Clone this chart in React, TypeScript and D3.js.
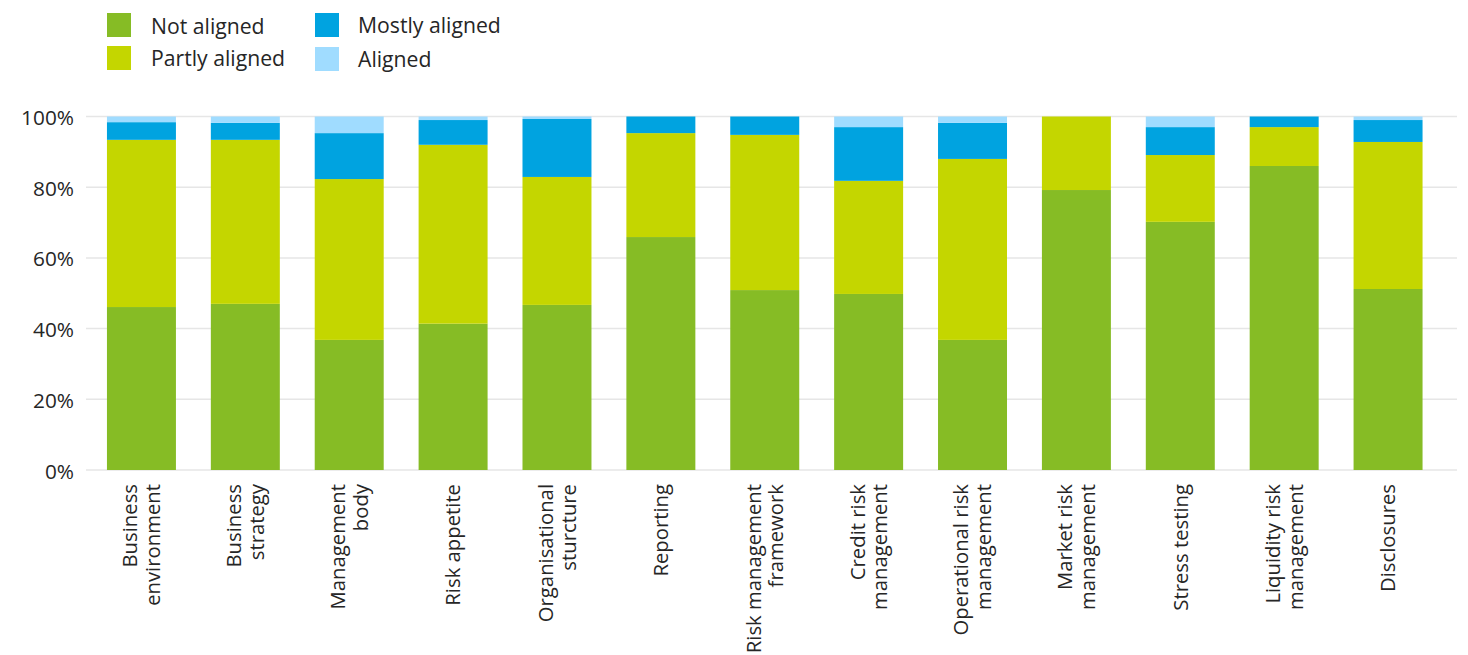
import React from "react";
import * as d3 from "d3";

const categories = [
  "Business\nenvironment",
  "Business\nstrategy",
  "Management\nbody",
  "Risk appetite",
  "Organisational\nsturcture",
  "Reporting",
  "Risk management\nframework",
  "Credit risk\nmanagement",
  "Operational risk\nmanagement",
  "Market risk\nmanagement",
  "Stress testing",
  "Liquidity risk\nmanagement",
  "Disclosures",
];

const seriesNames = ["Not aligned", "Partly aligned", "Mostly aligned", "Aligned"];
const seriesColors = ["#86BC25", "#C4D600", "#00A3E0", "#A0DCFF"];

const notAligned = [46.1, 47.0, 36.8, 41.4, 46.7, 65.9, 50.9, 49.8, 36.8, 79.2, 70.2, 86.0, 51.2];
const partlyAligned = [47.3, 46.4, 45.5, 50.6, 36.2, 29.4, 43.9, 32.0, 51.2, 20.8, 18.9, 11.0, 41.6];
const mostlyAligned = [5.0, 4.8, 13.0, 7.0, 16.4, 4.7, 5.2, 15.2, 10.2, 0, 7.9, 3.0, 6.2];
const aligned = [1.6, 1.8, 4.7, 1.0, 0.7, 0, 0, 3.0, 1.8, 0, 3.0, 0, 1.0];

const yTicks = [0, 20, 40, 60, 80, 100];

const W = 1468;
const H = 655;
const FONT = "'Open Sans', sans-serif";
const TEXT = "#262626";

export default function App() {
  const rows = categories.map((c, i) => ({
    cat: c,
    s0: notAligned[i],
    s1: partlyAligned[i],
    s2: mostlyAligned[i],
    s3: aligned[i],
  }));
  const keys = ["s0", "s1", "s2", "s3"];
  const stacked = d3.stack<any>().keys(keys)(rows);

  const x = d3
    .scaleBand<string>()
    .domain(categories)
    .range([89.5, 1440])
    .paddingInner(0.336)
    .paddingOuter(0.168);
  const y = d3.scaleLinear().domain([0, 100]).range([470, 116.5]);

  const legendPos = [
    { x: 107, y: 13, tx: 151, ty: 34 },
    { x: 107, y: 46, tx: 151, ty: 65.5 },
    { x: 315, y: 13, tx: 358, ty: 32.5 },
    { x: 315, y: 47, tx: 358, ty: 67 },
  ];

  const lineH = 22.7;

  return (
    <div style={{ position: "absolute", left: 0, top: 0 }}>
      <svg width={W} height={H} style={{ display: "block", fontFamily: FONT }}>
        <rect x={0} y={0} width={W} height={H} fill="#fff" />
        {/* legend */}
        {seriesNames.map((n, i) => (
          <g key={n}>
            <rect x={legendPos[i].x} y={legendPos[i].y} width={24} height={24} fill={seriesColors[i]} />
            <text x={legendPos[i].tx} y={legendPos[i].ty} fontSize={21.2} fill={TEXT}>
              {n}
            </text>
          </g>
        ))}
        {/* grid */}
        {yTicks.map((t) => (
          <g key={t}>
            <line x1={86} x2={1457} y1={y(t)} y2={y(t)} stroke="#e6e6e6" strokeWidth={1.5} />
            <text x={74} y={y(t) + 8.5} fontSize={20.8} textAnchor="end" fill={TEXT}>
              {t}%
            </text>
          </g>
        ))}
        {/* bars */}
        {stacked.map((layer, li) => (
          <g key={li} fill={seriesColors[li]}>
            {layer.map((d: any, i: number) => {
              const h = y(d[0]) - y(d[1]);
              if (h <= 0) return null;
              return (
                <rect
                  key={i}
                  x={x(categories[i])}
                  y={y(d[1])}
                  width={x.bandwidth()}
                  height={h}
                />
              );
            })}
          </g>
        ))}
        {/* x labels */}
        {categories.map((c) => {
          const lines = c.split("\n");
          const cx = (x(c) as number) + x.bandwidth() / 2;
          return (
            <text
              key={c}
              transform={`translate(${cx},484) rotate(-90)`}
              textAnchor="end"
              fontSize={20.3}
              fill={TEXT}
            >
              {lines.map((l, i) => (
                <tspan key={i} x={0} y={7.3 + (i - (lines.length - 1) / 2) * lineH}>
                  {l}
                </tspan>
              ))}
            </text>
          );
        })}
      </svg>
    </div>
  );
}
